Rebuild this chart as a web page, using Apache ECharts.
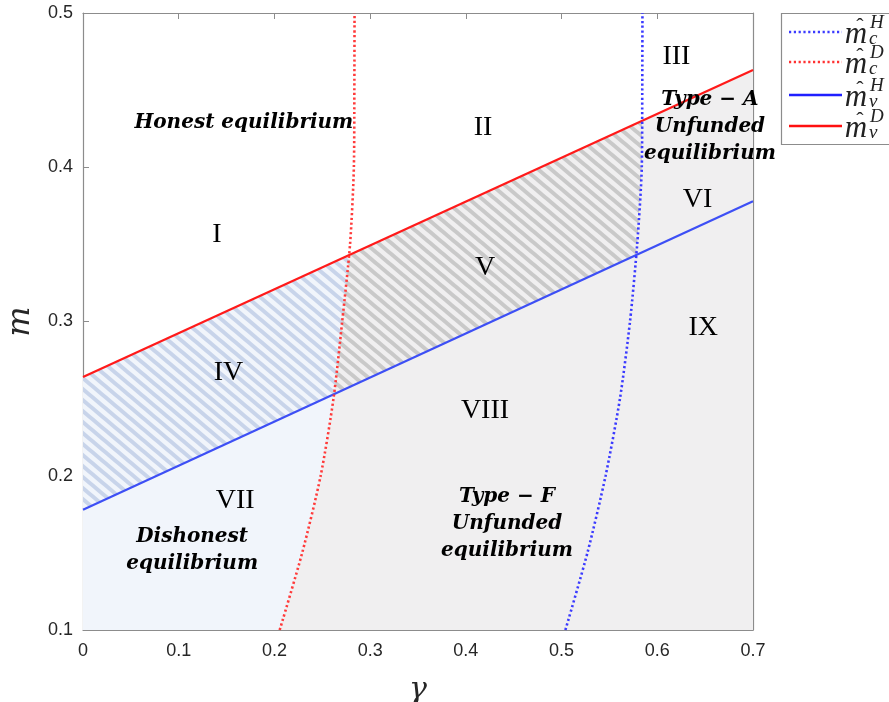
<!DOCTYPE html>
<html>
<head>
<meta charset="utf-8">
<script src="https://cdn.jsdelivr.net/npm/echarts@6/dist/echarts.min.js"></script>
<style>
  html, body { margin: 0; padding: 0; background: #fff; }
  #chart { width: 889px; height: 702px; }
</style>
</head>
<body>
<div id="chart"></div>
<script>
// axis ranges
const xMin = 0, xMax = 0.7, xStep = 0.1
const yMin = 0.1, yMax = 0.5, yStep = 0.1

// solid thresholds m_v^H (blue) and m_v^D (red), straight lines
const lineX = [0, 0.7]
const mvD = [0.264, 0.463]
const mvH = [0.178, 0.378]

// dotted thresholds m_c^D (red) and m_c^H (blue), read as gamma for each m
const curveM = [0.1, 0.15, 0.2, 0.25, 0.3, 0.35, 0.4, 0.45, 0.5]
const mcD = [0.2055, 0.229, 0.2483, 0.2617, 0.2708, 0.279, 0.283, 0.2835, 0.2837]
const mcH = [0.504, 0.527, 0.546, 0.561, 0.5715, 0.579, 0.5838, 0.5843, 0.5845]

// region numerals and captions: [gamma, m, text]
const numerals = [
  [0.140, 0.356, 'I'], [0.418, 0.426, 'II'], [0.620, 0.4715, 'III'],
  [0.152, 0.267, 'IV'], [0.420, 0.335, 'V'], [0.642, 0.379, 'VI'],
  [0.159, 0.184, 'VII'], [0.420, 0.242, 'VIII'], [0.648, 0.296, 'IX']
]
const captions = [
  [0.168, 0.4287, 'Honest equilibrium'],
  [0.655, 0.426, 'Type − A\nUnfunded\nequilibrium'],
  [0.114, 0.1515, 'Dishonest\nequilibrium'],
  [0.443, 0.1687, 'Type − F\nUnfunded\nequilibrium']
]

// ---- helpers: geometry built from the arrays above ----
const lineAt = (ys, x) => ys[0] + (ys[1] - ys[0]) * (x - lineX[0]) / (lineX[1] - lineX[0])
const curvePts = xs => xs.map((x, i) => [x, curveM[i]])

function crossing(xs, ys) {
  const pts = curvePts(xs)
  for (let i = 0; i < pts.length - 1; i++) {
    const d0 = pts[i][1] - lineAt(ys, pts[i][0])
    const d1 = pts[i + 1][1] - lineAt(ys, pts[i + 1][0])
    if (d0 <= 0 && d1 >= 0) {
      const t = d0 / (d0 - d1)
      return [pts[i][0] + t * (pts[i + 1][0] - pts[i][0]), pts[i][1] + t * (pts[i + 1][1] - pts[i][1])]
    }
  }
  return pts[pts.length - 1]
}
const between = (xs, lo, hi) => curvePts(xs).filter(p => p[1] > lo && p[1] < hi)

const dTop = crossing(mcD, mvD), dBot = crossing(mcD, mvH)
const hTop = crossing(mcH, mvD), hBot = crossing(mcH, mvH)
const dBelowTop = between(mcD, yMin - 1, dTop[1])

const polyBlue = [[xMin, yMin], [xMin, mvD[0]], dTop, ...dBelowTop.slice().reverse()]
const polyGray = [...dBelowTop, dTop, [xMax, lineAt(mvD, xMax)], [xMax, yMin]]
const polyHatchBlue = [[xMin, mvH[0]], [xMin, mvD[0]], dTop, ...between(mcD, dBot[1], dTop[1]).reverse(), dBot]
const polyHatchGray = [dBot, ...between(mcD, dBot[1], dTop[1]), dTop, hTop, ...between(mcH, hBot[1], hTop[1]).reverse(), hBot]

// diagonal hatch tile, lines running down to the right
function stripes(color) {
  const w = 13, h = 11
  const c = document.createElement('canvas')
  c.width = w
  c.height = h
  const g = c.getContext('2d')
  g.strokeStyle = color
  g.lineWidth = 4
  for (const k of [-1, 0, 1]) {
    g.beginPath(); g.moveTo(k * w - w, -h); g.lineTo(k * w + 2 * w, 2 * h); g.stroke()
  }
  return { image: c, repeat: 'repeat' }
}

function polySeries(points, fill, z) {
  return {
    type: 'custom', coordinateSystem: 'cartesian2d', silent: true, z, clip: true,
    data: [[xMin, yMin]],
    renderItem: (params, api) => ({
      type: 'polygon',
      shape: { points: points.map(p => api.coord(p)) },
      style: { fill, stroke: null }
    })
  }
}

function textSeries(items, font, lineHeight) {
  return {
    type: 'custom', coordinateSystem: 'cartesian2d', silent: true, z: 10,
    data: items,
    renderItem: (params, api) => {
      const p = api.coord([api.value(0), api.value(1)])
      return {
        type: 'text', x: p[0], y: p[1],
        style: { text: items[params.dataIndex][2], font, fill: '#000', align: 'center', verticalAlign: 'middle', lineHeight }
      }
    }
  }
}

const axisGray = '#8c8c8c'
const tickFont = { color: '#262626', fontSize: 18, fontFamily: 'Liberation Sans, Arial, sans-serif' }
const fmt = v => v === 0 ? '0' : v.toFixed(1)

function xAxisOf(pos, labels) {
  return {
    type: 'value', position: pos, min: xMin, max: xMax, interval: xStep,
    axisLine: { show: true, onZero: false, lineStyle: { color: axisGray, width: 1.2 } },
    axisTick: { show: true, inside: true, length: 6, lineStyle: { color: axisGray } },
    axisLabel: { show: labels, formatter: fmt, margin: 12, ...tickFont },
    splitLine: { show: false },
    name: labels ? 'γ' : '', nameLocation: 'middle', nameGap: 45,
    nameTextStyle: { fontFamily: 'DejaVu Serif', fontStyle: 'italic', fontSize: 30, color: '#262626' }
  }
}
function yAxisOf(pos, labels) {
  return {
    type: 'value', position: pos, min: yMin, max: yMax, interval: yStep,
    axisLine: { show: true, onZero: false, lineStyle: { color: axisGray, width: 1.2 } },
    axisTick: { show: true, inside: true, length: 6, lineStyle: { color: axisGray } },
    axisLabel: { show: labels, formatter: fmt, margin: 10, ...tickFont },
    splitLine: { show: false },
    name: labels ? 'm' : '', nameLocation: 'middle', nameGap: 44, nameRotate: 90,
    nameTextStyle: { fontFamily: 'DejaVu Serif', fontStyle: 'italic', fontSize: 32, color: '#262626' }
  }
}

// legend drawn as graphics (stacked sub/superscripts)
const legendRows = [
  { y: 32, color: '#3a3aff', dash: [2.2, 2.6], sub: 'c', sup: 'H' },
  { y: 62, color: '#ff3030', dash: [2.2, 2.6], sub: 'c', sup: 'D' },
  { y: 95, color: '#1f1fff', dash: null, sub: 'v', sup: 'H' },
  { y: 126, color: '#ff1010', dash: null, sub: 'v', sup: 'D' }
]
const legendGraphics = [{
  type: 'rect', shape: { x: 781.5, y: 13.5, width: 120, height: 131 },
  style: { fill: '#fff', stroke: axisGray, lineWidth: 1.2 }
}]
legendRows.forEach(r => {
  legendGraphics.push(
    { type: 'line', shape: { x1: 789, y1: r.y, x2: 842, y2: r.y },
      style: { stroke: r.color, lineWidth: r.dash ? 2.6 : 2.4, lineDash: r.dash } },
    { type: 'text', x: 856, y: r.y + 3, style: { text: 'm', font: 'italic 31px "Liberation Serif"', fill: '#222', align: 'center', verticalAlign: 'middle' } },
    { type: 'text', x: 860, y: r.y - 5, style: { text: 'ˆ', font: '22px "Liberation Serif"', fill: '#222', align: 'center', verticalAlign: 'middle' } },
    { type: 'text', x: 870, y: r.y - 9, style: { text: r.sup, font: 'italic 19px "Liberation Serif"', fill: '#222', align: 'left', verticalAlign: 'middle' } },
    { type: 'text', x: 869, y: r.y + 7, style: { text: r.sub, font: 'italic 19px "Liberation Serif"', fill: '#222', align: 'left', verticalAlign: 'middle' } }
  )
})

const chart = echarts.init(document.getElementById('chart'), null, { renderer: 'canvas' })
chart.setOption({
  animation: false,
  backgroundColor: '#fff',
  grid: { left: 83, right: 136, top: 13, bottom: 72, containLabel: false, outerBoundsMode: 'none' },
  xAxis: [xAxisOf('bottom', true), xAxisOf('top', false)],
  yAxis: [yAxisOf('left', true), yAxisOf('right', false)],
  graphic: legendGraphics,
  series: [
    polySeries(polyBlue, '#f1f5fb', 1),
    polySeries(polyGray, '#f0eff0', 1),
    polySeries(polyHatchBlue, stripes('#c8d4ea'), 2),
    polySeries(polyHatchGray, stripes('#c9c9c9'), 2),
    {
      type: 'line', data: lineX.map((x, i) => [x, mvH[i]]), symbol: 'none', z: 5, silent: true,
      lineStyle: { color: '#3d4ff5', width: 2.2 }
    },
    {
      type: 'line', data: lineX.map((x, i) => [x, mvD[i]]), symbol: 'none', z: 5, silent: true,
      lineStyle: { color: '#ff1a1a', width: 2.2 }
    },
    {
      type: 'line', data: curvePts(mcD), symbol: 'none', z: 6, silent: true, smooth: 0.25,
      lineStyle: { color: '#ff3a3a', width: 2.6, type: [2.2, 2.6] }
    },
    {
      type: 'line', data: curvePts(mcH), symbol: 'none', z: 6, silent: true, smooth: 0.25,
      lineStyle: { color: '#3a3aff', width: 2.6, type: [2.2, 2.6] }
    },
    textSeries(numerals, '28px "Liberation Serif"', 30),
    textSeries(captions, 'bold italic 20px "DejaVu Serif"', 27)
  ]
})
</script>
</body>
</html>
